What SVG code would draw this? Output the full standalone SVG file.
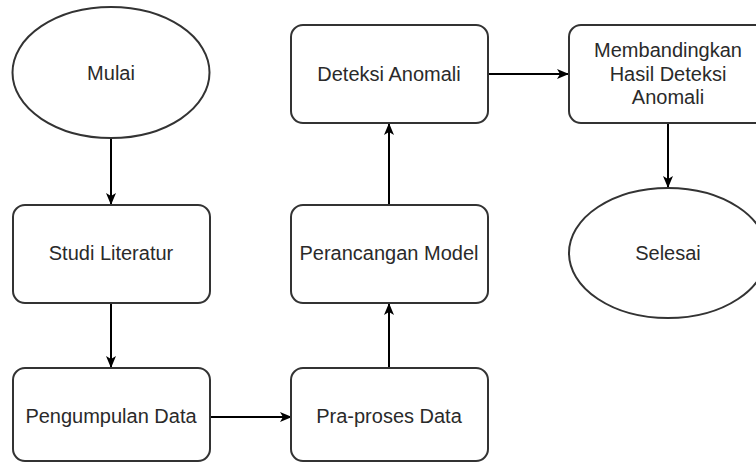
<svg xmlns="http://www.w3.org/2000/svg" width="756" height="463" viewBox="0 0 756 463">
  <style>
    .shape { fill: #ffffff; stroke: #333333; stroke-width: 2; }
    .label { font-family: "Liberation Sans", Arial, sans-serif; font-size: 20px; fill: #2a2a2a; text-anchor: middle; }
    .edge { fill: none; stroke: #000000; stroke-width: 2; }
  </style>
  <defs>
    <marker id="arrow" viewBox="0 0 12 10" refX="12" refY="5" markerWidth="12" markerHeight="10" markerUnits="userSpaceOnUse" orient="auto">
      <path d="M0,0 L12,5 L0,10 L3,5 Z" fill="#000000"/>
    </marker>
  </defs>
  <rect width="756" height="463" fill="#ffffff"/>

  <g id="connectors">
    <line class="edge" x1="111" y1="138" x2="111" y2="205" marker-end="url(#arrow)"/>
    <line class="edge" x1="111" y1="303" x2="111" y2="368" marker-end="url(#arrow)"/>
    <line class="edge" x1="210" y1="417" x2="292" y2="417" marker-end="url(#arrow)"/>
    <line class="edge" x1="389" y1="368" x2="389" y2="303" marker-end="url(#arrow)"/>
    <line class="edge" x1="389" y1="205" x2="389" y2="123" marker-end="url(#arrow)"/>
    <line class="edge" x1="488" y1="74" x2="569" y2="74" marker-end="url(#arrow)"/>
    <line class="edge" x1="668" y1="123" x2="668" y2="188" marker-end="url(#arrow)"/>
  </g>

  <g id="mulai">
    <ellipse class="shape" cx="111" cy="72.5" rx="98.5" ry="65.5"/>
    <text class="label" x="111" y="80">Mulai</text>
  </g>
  <g id="studi-literatur">
    <rect class="shape" x="13" y="205" width="197" height="98" rx="12"/>
    <text class="label" x="111" y="260">Studi Literatur</text>
  </g>
  <g id="pengumpulan-data">
    <rect class="shape" x="13" y="368" width="197" height="93" rx="12"/>
    <text class="label" x="111" y="423">Pengumpulan Data</text>
  </g>
  <g id="pra-proses-data">
    <rect class="shape" x="291" y="368" width="197" height="93" rx="12"/>
    <text class="label" x="389" y="423">Pra-proses Data</text>
  </g>
  <g id="perancangan-model">
    <rect class="shape" x="291" y="205" width="197" height="98" rx="12"/>
    <text class="label" x="389" y="260">Perancangan Model</text>
  </g>
  <g id="deteksi-anomali">
    <rect class="shape" x="291" y="25" width="197" height="98" rx="12"/>
    <text class="label" x="389" y="81">Deteksi Anomali</text>
  </g>
  <g id="membandingkan">
    <rect class="shape" x="569" y="25" width="198" height="98" rx="12"/>
    <text class="label" x="668" y="57">Membandingkan</text>
    <text class="label" x="668" y="80.5">Hasil Deteksi</text>
    <text class="label" x="668" y="104">Anomali</text>
  </g>
  <g id="selesai">
    <ellipse class="shape" cx="668" cy="253" rx="99" ry="65"/>
    <text class="label" x="668" y="260">Selesai</text>
  </g>
</svg>
